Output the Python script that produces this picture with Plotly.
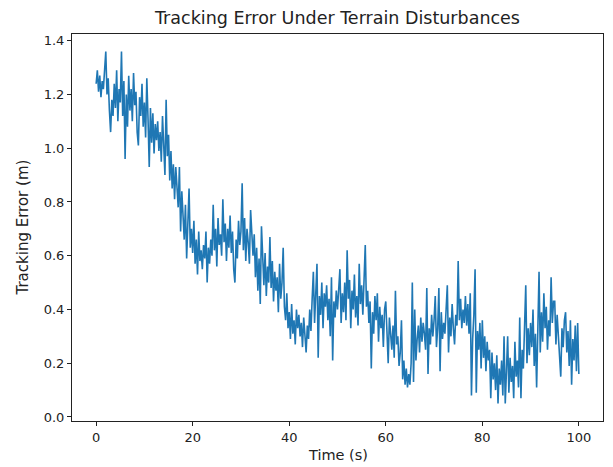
import numpy as np
import plotly.graph_objects as go

error_m = [
    1.24, 1.29, 1.21, 1.27, 1.19, 1.25, 1.22, 1.30, 1.36, 1.20,
    1.26, 1.14, 1.06, 1.18, 1.12, 1.24, 1.15, 1.29, 1.10, 1.22,
    1.17, 1.36, 1.12, 1.25, 0.96, 1.20, 1.08, 1.27, 1.14, 1.22,
    1.10, 1.28, 1.16, 1.21, 1.06, 1.01, 1.19, 1.12, 1.24, 1.08,
    1.17, 1.04, 1.26, 1.11, 0.93, 1.15, 1.02, 1.13, 0.98, 1.09,
    1.03, 1.10, 0.99, 1.06, 0.95, 1.12, 1.01, 0.90, 1.18, 0.97,
    1.05, 0.88, 0.99, 0.85, 0.94, 0.81, 0.93, 0.86, 0.78, 0.93,
    0.69, 0.84, 0.75, 0.66, 0.79, 0.59, 0.72, 0.85, 0.63, 0.70,
    0.61, 0.73, 0.57, 0.66, 0.53, 0.69, 0.58, 0.62, 0.55, 0.64,
    0.59, 0.69, 0.50, 0.63, 0.57, 0.66, 0.60, 0.79, 0.62, 0.70,
    0.56, 0.74, 0.64, 0.68, 0.60, 0.81, 0.65, 0.72, 0.58, 0.70,
    0.63, 0.75, 0.61, 0.69, 0.55, 0.50, 0.66, 0.59, 0.73, 0.64,
    0.69, 0.87, 0.62, 0.74, 0.58, 0.70, 0.65, 0.57, 0.77, 0.66,
    0.60, 0.68, 0.52, 0.63, 0.47, 0.59, 0.42, 0.71, 0.55, 0.49,
    0.61, 0.45, 0.56, 0.50, 0.67, 0.48, 0.58, 0.43, 0.54, 0.47,
    0.52, 0.39, 0.57, 0.44, 0.50, 0.63, 0.41, 0.36, 0.46, 0.33,
    0.39, 0.29, 0.42, 0.31, 0.36, 0.27, 0.40, 0.33, 0.38, 0.30,
    0.35, 0.26, 0.37, 0.30, 0.24, 0.34, 0.29, 0.40, 0.32, 0.44,
    0.54, 0.35, 0.48, 0.57, 0.22, 0.45, 0.38, 0.50, 0.33, 0.46,
    0.41, 0.49, 0.36, 0.44, 0.30, 0.52, 0.21, 0.43, 0.37, 0.47,
    0.40, 0.48, 0.55, 0.35, 0.46, 0.39, 0.50, 0.36, 0.62, 0.44,
    0.51, 0.33, 0.47, 0.40, 0.53, 0.37, 0.45, 0.34, 0.57, 0.42,
    0.49, 0.38, 0.55, 0.64, 0.41, 0.47, 0.35, 0.43, 0.18, 0.39,
    0.31, 0.45, 0.36, 0.46, 0.28, 0.41, 0.33, 0.38, 0.26, 0.40,
    0.43, 0.29, 0.20, 0.37, 0.31, 0.25, 0.34, 0.22, 0.47, 0.27,
    0.30, 0.19, 0.24, 0.36, 0.14, 0.21, 0.12, 0.18, 0.11, 0.16,
    0.12, 0.20, 0.50, 0.13, 0.40, 0.21, 0.29, 0.34, 0.24, 0.37,
    0.28, 0.35, 0.31, 0.25, 0.48, 0.16, 0.33, 0.27, 0.38, 0.30,
    0.36, 0.45, 0.26, 0.33, 0.48, 0.17, 0.39, 0.29, 0.35, 0.31,
    0.40, 0.49, 0.24, 0.37, 0.30, 0.42, 0.33, 0.27, 0.38, 0.34,
    0.58, 0.36, 0.44, 0.33, 0.40, 0.35, 0.45, 0.34, 0.42, 0.31,
    0.46, 0.08, 0.29, 0.38, 0.55, 0.09, 0.32, 0.25, 0.35, 0.18,
    0.36, 0.22, 0.30, 0.17, 0.28, 0.21, 0.25, 0.07, 0.24, 0.14,
    0.20, 0.10, 0.23, 0.05, 0.18, 0.12, 0.21, 0.08, 0.30, 0.05,
    0.17, 0.30, 0.09, 0.22, 0.13, 0.19, 0.07, 0.28, 0.15, 0.21,
    0.11, 0.37, 0.07, 0.25, 0.18, 0.30, 0.49, 0.20, 0.33, 0.23,
    0.35, 0.26, 0.40, 0.19, 0.31, 0.11, 0.37, 0.54, 0.24, 0.39,
    0.28, 0.46, 0.33, 0.41, 0.25, 0.36, 0.30, 0.52, 0.35, 0.43,
    0.43, 0.27, 0.38, 0.31, 0.22, 0.15, 0.33, 0.26, 0.36, 0.39,
    0.24, 0.32, 0.19, 0.36, 0.12, 0.29, 0.21, 0.34, 0.17, 0.35,
    0.16,
]
time_s = np.linspace(0, 100, len(error_m))

x_ticks = [0, 20, 40, 60, 80, 100]
y_ticks = [0.0, 0.2, 0.4, 0.6, 0.8, 1.0, 1.2, 1.4]
y_tick_labels = [f"{v:.1f}" for v in y_ticks]

FONT = "DejaVu Sans"
W, H = 613, 467
L, R, T, B = 72, 10, 34, 46

fig = go.Figure()
fig.add_trace(go.Scatter(
    x=time_s, y=error_m, mode="lines",
    line=dict(color="#1f77b4", width=1.6),
    showlegend=False,
))

axis_common = dict(
    showline=True, linecolor="#222222", linewidth=1, mirror=True,
    showgrid=False, zeroline=False,
    ticks="outside", ticklen=4, tickwidth=1, tickcolor="#222222",
    tickfont=dict(family=FONT, size=13, color="#222222"),
)

fig.update_layout(
    width=W, height=H,
    margin=dict(l=L, r=R, t=T, b=B),
    paper_bgcolor="white", plot_bgcolor="white",
    title=dict(
        text="Tracking Error Under Terrain Disturbances",
        font=dict(family=FONT, size=17.5, color="#222222"),
        x=(L + (W - R)) / 2 / W, xanchor="center",
        y=1 - 18 / H, yanchor="middle", yref="container",
    ),
    xaxis=dict(range=[-5, 105], tickvals=x_ticks, **axis_common),
    yaxis=dict(range=[-0.015, 1.425], tickvals=y_ticks, ticktext=y_tick_labels, **axis_common),
    annotations=[
        dict(text="Time (s)", xref="paper", yref="paper",
             x=0.5, y=-(455 - (H - B)) / (H - T - B), xanchor="center", yanchor="middle",
             showarrow=False, font=dict(family=FONT, size=14.5, color="#222222")),
        dict(text="Tracking Error (m)", xref="paper", yref="paper",
             x=-(L - 22) / (W - L - R), y=0.5, xanchor="center", yanchor="middle",
             textangle=-90, showarrow=False, font=dict(family=FONT, size=15, color="#222222")),
    ],
)

fig.write_html("out.html")
